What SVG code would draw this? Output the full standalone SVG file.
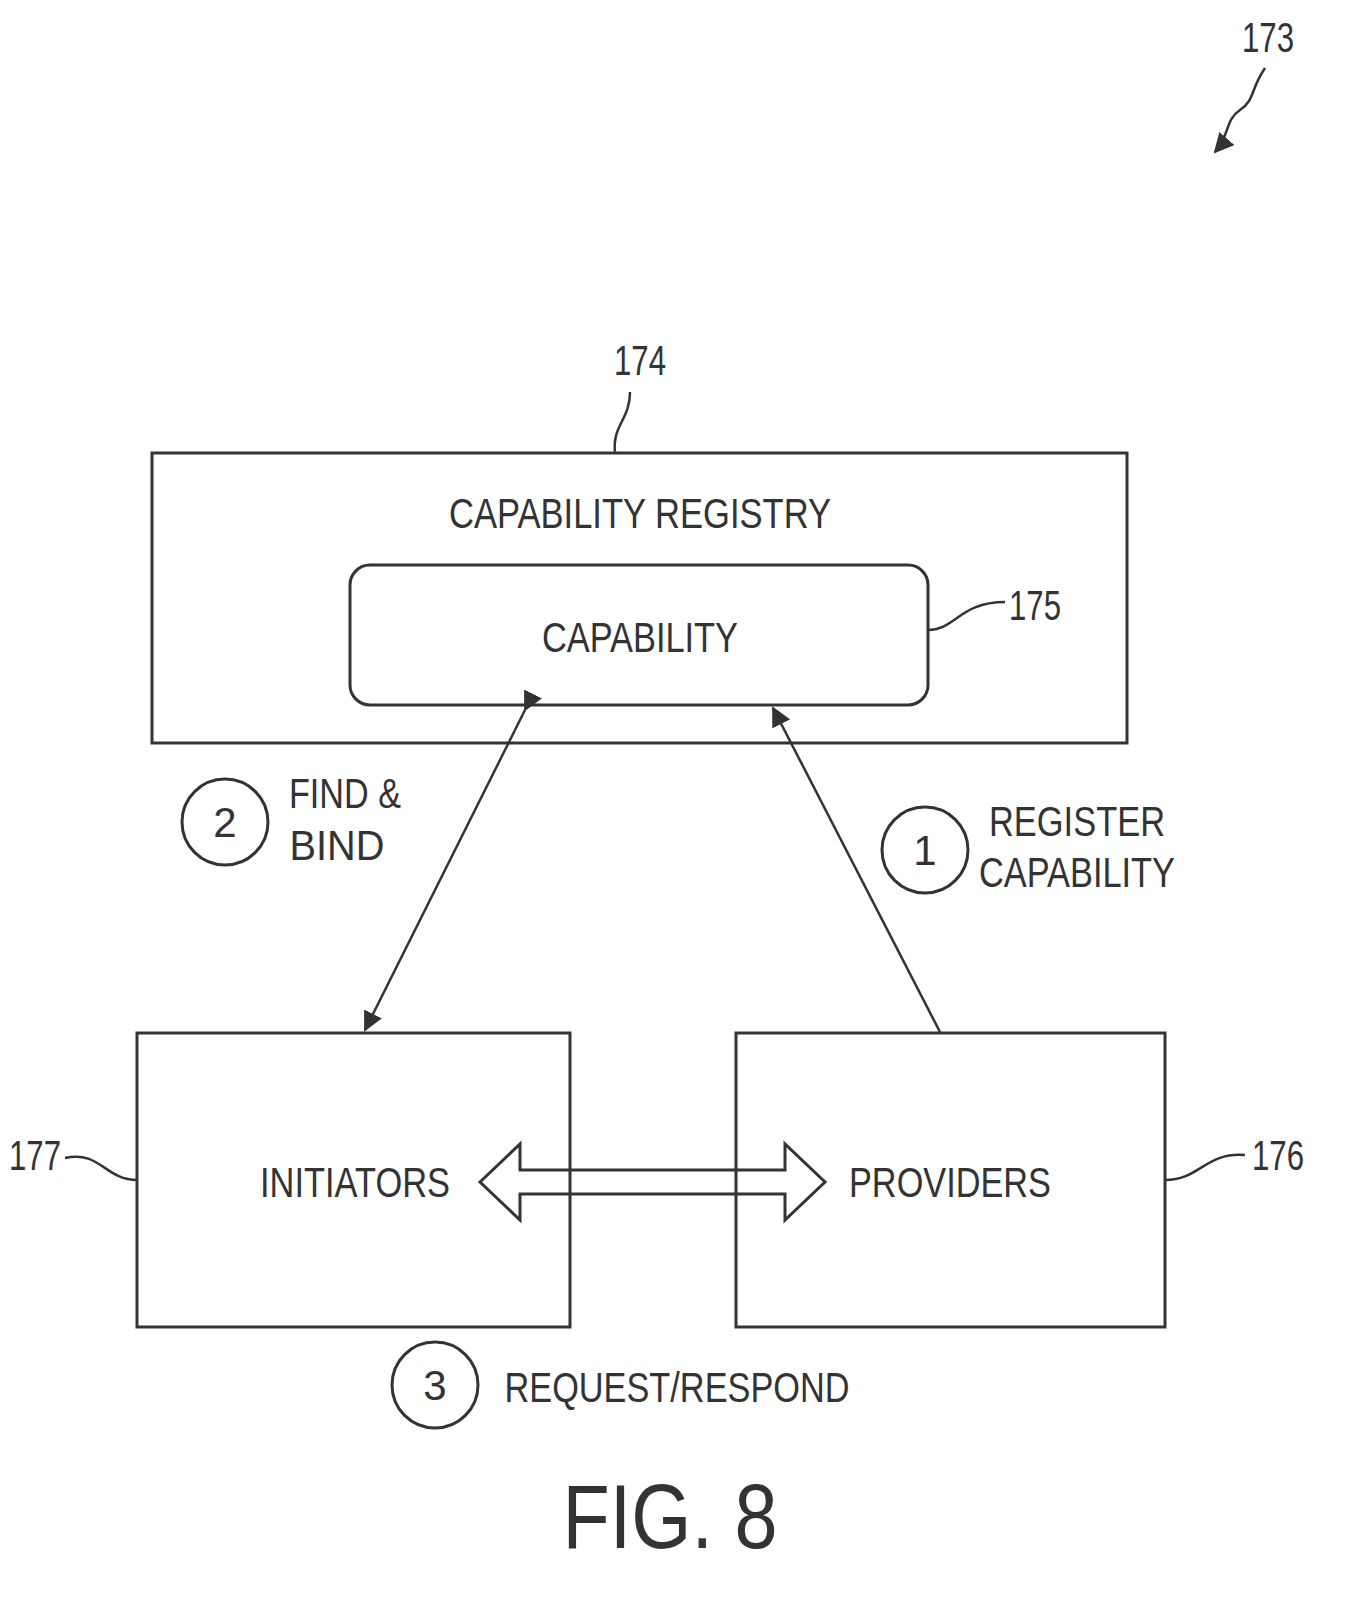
<svg xmlns="http://www.w3.org/2000/svg" width="1356" height="1623" viewBox="0 0 1356 1623">
<style>
.b{fill:none;stroke:#333;stroke-width:3}
.t{font-family:"Liberation Sans",Arial,sans-serif;font-size:42px;fill:#333;text-anchor:middle}
.l{fill:none;stroke:#333;stroke-width:2.5}
</style>
<defs>
<marker id="ah" viewBox="0 0 10 10" refX="9" refY="5" markerWidth="8" markerHeight="8" orient="auto-start-reverse" markerUnits="userSpaceOnUse">
<path d="M0,0 L10,5 L0,10 z" fill="#333"/></marker>
<marker id="ah2" viewBox="0 0 10 10" refX="9" refY="5" markerWidth="20" markerHeight="20" orient="auto" markerUnits="userSpaceOnUse">
<path d="M0,0 L10,5 L0,10 z" fill="#333"/></marker>
</defs>
<g id="ref173">
<text class="t" x="1268" y="52" textLength="52" lengthAdjust="spacingAndGlyphs">173</text>
<path class="l" d="M1265,68 C1250,90 1255,100 1240,110 C1225,120 1230,135 1215,152" marker-end="url(#ah2)"/>
</g>
<g id="n174">
<rect class="b" x="152" y="453" width="975" height="290"/>
<text class="t" x="640" y="528" textLength="382" lengthAdjust="spacingAndGlyphs">CAPABILITY REGISTRY</text>
<text class="t" x="640" y="375" textLength="52" lengthAdjust="spacingAndGlyphs">174</text>
<path class="l" d="M630,392 C630,420 612,425 615,453"/>
</g>
<g id="n175">
<rect class="b" x="350" y="565" width="578" height="140" rx="20"/>
<text class="t" x="640" y="652" textLength="196" lengthAdjust="spacingAndGlyphs">CAPABILITY</text>
<text class="t" x="1035" y="620" textLength="52" lengthAdjust="spacingAndGlyphs">175</text>
<path class="l" d="M928,630 C955,630 960,602 1005,602"/>
</g>
<g id="n177">
<rect class="b" x="137" y="1033" width="433" height="294"/>
<text class="t" x="355" y="1197" textLength="190" lengthAdjust="spacingAndGlyphs">INITIATORS</text>
<text class="t" x="35" y="1170" textLength="52" lengthAdjust="spacingAndGlyphs">177</text>
<path class="l" d="M65,1158 C100,1150 105,1180 137,1180"/>
</g>
<g id="n176">
<rect class="b" x="736" y="1033" width="429" height="294"/>
<text class="t" x="950" y="1197" textLength="202" lengthAdjust="spacingAndGlyphs">PROVIDERS</text>
<text class="t" x="1278" y="1170" textLength="52" lengthAdjust="spacingAndGlyphs">176</text>
<path class="l" d="M1165,1180 C1200,1180 1205,1152 1245,1155"/>
</g>
<g id="connectors">
<line class="l" x1="525" y1="710" x2="365" y2="1030" marker-start="url(#ah2)" marker-end="url(#ah2)"/>
<line class="l" x1="940" y1="1032" x2="773" y2="708" marker-end="url(#ah2)"/>
<path class="b" d="M480,1182 L520,1144 L520,1170 L785,1170 L785,1144 L825,1182 L785,1220 L785,1194 L520,1194 L520,1220 Z" fill="#fff"/>
</g>
<g id="step2">
<circle class="b" cx="225" cy="822" r="43"/>
<text class="t" x="225" y="837">2</text>
<text class="t" x="345" y="808" textLength="112" lengthAdjust="spacingAndGlyphs">FIND &amp;</text>
<text class="t" x="337" y="860" textLength="95" lengthAdjust="spacingAndGlyphs">BIND</text>
</g>
<g id="step1">
<circle class="b" cx="925" cy="850" r="43"/>
<text class="t" x="925" y="865">1</text>
<text class="t" x="1077" y="836" textLength="176" lengthAdjust="spacingAndGlyphs">REGISTER</text>
<text class="t" x="1077" y="887" textLength="196" lengthAdjust="spacingAndGlyphs">CAPABILITY</text>
</g>
<g id="step3">
<circle class="b" cx="435" cy="1385" r="43"/>
<text class="t" x="435" y="1400">3</text>
<text class="t" x="677" y="1402" textLength="345" lengthAdjust="spacingAndGlyphs">REQUEST/RESPOND</text>
</g>
<text class="t" x="670" y="1548" style="font-size:90px" textLength="215" lengthAdjust="spacingAndGlyphs">FIG. 8</text>
</svg>
